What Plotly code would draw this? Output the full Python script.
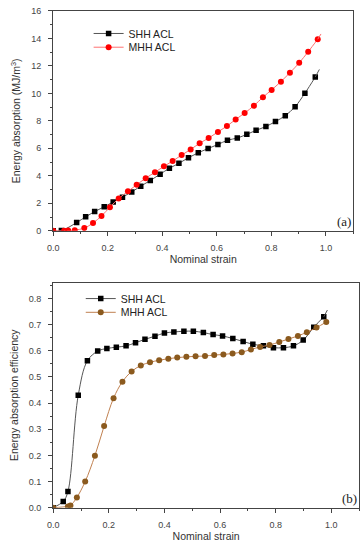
import plotly.graph_objects as go

# ---- Panel (a): energy absorption ----
a_shh_x = [0.0, 0.030, 0.086, 0.119, 0.152, 0.187, 0.220, 0.254, 0.288, 0.321, 0.356, 0.392, 0.426,
           0.461, 0.496, 0.532, 0.568, 0.604, 0.639, 0.675, 0.710, 0.744, 0.780, 0.815, 0.851,
           0.887, 0.923, 0.961]
a_shh_y = [0.0, 0.02, 0.60, 1.02, 1.40, 1.75, 2.10, 2.45, 2.83, 3.25, 3.66, 4.12, 4.55,
           4.91, 5.32, 5.68, 5.99, 6.28, 6.59, 6.75, 7.02, 7.31, 7.59, 7.95, 8.38,
           9.03, 10.01, 11.19]
a_shh_end_x = [0.961, 0.976]
a_shh_end_y = [11.19, 11.74]

a_mhh_x = [0.0, 0.040, 0.055, 0.079, 0.114, 0.146, 0.177, 0.208, 0.240, 0.274, 0.306, 0.339,
           0.373, 0.406, 0.438, 0.471, 0.504, 0.537, 0.570, 0.604, 0.637, 0.669, 0.702,
           0.736, 0.769, 0.801, 0.835, 0.868, 0.902, 0.935, 0.970]
a_mhh_y = [0.0, 0.0, 0.02, 0.05, 0.20, 0.57, 1.08, 1.72, 2.35, 2.87, 3.35, 3.83,
           4.26, 4.69, 5.08, 5.51, 5.92, 6.37, 6.75, 7.19, 7.62, 8.10, 8.57,
           9.10, 9.72, 10.25, 10.85, 11.50, 12.22, 13.03, 13.94]
a_mhh_end_x = [0.970, 0.982]
a_mhh_end_y = [13.94, 14.32]

# ---- Panel (b): energy absorption efficiency ----
b_shh_x = [0.0, 0.036, 0.053, 0.090, 0.123, 0.160, 0.193, 0.227, 0.262, 0.296, 0.330, 0.366,
           0.400, 0.434, 0.470, 0.504, 0.540, 0.575, 0.609, 0.646, 0.683, 0.718, 0.756,
           0.792, 0.828, 0.864, 0.899, 0.937, 0.973]
b_shh_y = [0.0, 0.024, 0.062, 0.430, 0.562, 0.599, 0.609, 0.614, 0.619, 0.631, 0.644, 0.656,
           0.668, 0.672, 0.675, 0.675, 0.670, 0.662, 0.657, 0.647, 0.636, 0.625, 0.619,
           0.612, 0.612, 0.619, 0.641, 0.690, 0.730]
b_shh_end_x = [0.973, 0.986]
b_shh_end_y = [0.730, 0.756]

b_mhh_x = [0.0, 0.053, 0.062, 0.085, 0.115, 0.150, 0.183, 0.217, 0.249, 0.282, 0.315, 0.348,
           0.381, 0.414, 0.446, 0.479, 0.512, 0.546, 0.579, 0.612, 0.645, 0.678, 0.711,
           0.744, 0.778, 0.813, 0.846, 0.880, 0.912, 0.947, 0.982]
b_mhh_y = [0.0, 0.005, 0.008, 0.039, 0.100, 0.199, 0.312, 0.419, 0.482, 0.521, 0.544, 0.556,
           0.564, 0.570, 0.574, 0.577, 0.579, 0.580, 0.584, 0.586, 0.590, 0.595, 0.605,
           0.615, 0.622, 0.634, 0.645, 0.657, 0.671, 0.689, 0.710]

x_ticks = [0.0, 0.2, 0.4, 0.6, 0.8, 1.0]
x_tick_labels = ["0.0", "0.2", "0.4", "0.6", "0.8", "1.0"]
a_y_ticks = [0, 2, 4, 6, 8, 10, 12, 14, 16]
b_y_ticks = [0.0, 0.1, 0.2, 0.3, 0.4, 0.5, 0.6, 0.7, 0.8]
b_y_tick_labels = ["0.0", "0.1", "0.2", "0.3", "0.4", "0.5", "0.6", "0.7", "0.8"]

series_names = ["SHH ACL", "MHH ACL"]

BLACK = "#000000"
GRAY_LINE = "#555555"
RED = "#ff0000"
RED_LINE = "#ff7070"
BROWN = "#8b5a1e"
BROWN_LINE = "#c08050"

fig = go.Figure()

# panel a
fig.add_trace(go.Scatter(x=a_shh_x, y=a_shh_y, mode="lines+markers", name=series_names[0],
                         line=dict(color=GRAY_LINE, width=1, shape="spline"),
                         marker=dict(symbol="square", size=5.5, color=BLACK),
                         xaxis="x", yaxis="y", legend="legend"))
fig.add_trace(go.Scatter(x=a_shh_end_x, y=a_shh_end_y, mode="lines", showlegend=False,
                         line=dict(color=GRAY_LINE, width=1), xaxis="x", yaxis="y"))
fig.add_trace(go.Scatter(x=a_mhh_x, y=a_mhh_y, mode="lines+markers", name=series_names[1],
                         line=dict(color=RED_LINE, width=1, shape="spline"),
                         marker=dict(symbol="circle", size=6, color=RED),
                         xaxis="x", yaxis="y", legend="legend2"))
fig.add_trace(go.Scatter(x=a_mhh_end_x, y=a_mhh_end_y, mode="lines", showlegend=False,
                         line=dict(color=RED_LINE, width=1), xaxis="x", yaxis="y"))

# panel b
fig.add_trace(go.Scatter(x=b_shh_x, y=b_shh_y, mode="lines+markers", name=series_names[0],
                         line=dict(color=GRAY_LINE, width=1, shape="spline"),
                         marker=dict(symbol="square", size=5.5, color=BLACK),
                         xaxis="x2", yaxis="y2", legend="legend3"))
fig.add_trace(go.Scatter(x=b_shh_end_x, y=b_shh_end_y, mode="lines", showlegend=False,
                         line=dict(color=GRAY_LINE, width=1), xaxis="x2", yaxis="y2"))
fig.add_trace(go.Scatter(x=b_mhh_x, y=b_mhh_y, mode="lines+markers", name=series_names[1],
                         line=dict(color=BROWN_LINE, width=1, shape="spline"),
                         marker=dict(symbol="circle", size=6, color=BROWN),
                         xaxis="x2", yaxis="y2", legend="legend4"))

axis_common = dict(showgrid=False, zeroline=False, showline=True, linecolor="#444444",
                   linewidth=1.3, mirror=True, ticks="outside", ticklen=4, tickwidth=1,
                   tickcolor="#444444",
                   tickfont=dict(family="Liberation Sans, Arial", size=9, color="#444444"))
title_font = dict(family="Liberation Sans, Arial", size=10.5, color="#333333")
legend_font = dict(family="Liberation Sans, Arial", size=10.5, color="#222222")


def leg(xpx, ypx):
    return dict(x=xpx / 364, y=1 - ypx / 550, xanchor="left", yanchor="middle",
                bgcolor="rgba(0,0,0,0)", font=legend_font, itemwidth=30,
                tracegroupgap=0, borderwidth=0)


fig.update_layout(
    width=364, height=550,
    margin=dict(l=0, r=0, t=0, b=0),
    paper_bgcolor="white", plot_bgcolor="white",
    xaxis=dict(domain=[48/364, 353/364], range=[0, 1.1], anchor="y",
               tickvals=x_ticks, ticktext=x_tick_labels, ticklabelstandoff=4,
               minor=dict(ticks="outside", ticklen=2, dtick=0.1, tickcolor="#444444"),
               title=dict(text="Nominal strain", font=title_font, standoff=3),
               **axis_common),
    yaxis=dict(domain=[1-230/550, 1-6/550], range=[0, 16], anchor="x",
               tickvals=a_y_ticks, ticklabelstandoff=5,
               minor=dict(ticks="outside", ticklen=2, dtick=1, tickcolor="#444444"),
               title=dict(text="Energy absorption (MJ/m<sup>3</sup>)", font=title_font, standoff=8),
               **axis_common),
    xaxis2=dict(domain=[48/364, 359/364], range=[0, 1.1], anchor="y2",
                tickvals=x_ticks, ticktext=x_tick_labels, ticklabelstandoff=4,
                minor=dict(ticks="outside", ticklen=2, dtick=0.1, tickcolor="#444444"),
                title=dict(text="Nominal strain", font=title_font, standoff=3),
                **axis_common),
    yaxis2=dict(domain=[1-512/550, 1-283/550], range=[0, 0.86], anchor="x2",
                tickvals=b_y_ticks, ticktext=b_y_tick_labels, ticklabelstandoff=5,
                minor=dict(ticks="outside", ticklen=2, dtick=0.05, tickcolor="#444444"),
                title=dict(text="Energy absorption efficiency", font=title_font, standoff=8),
                **axis_common),
    legend=leg(84, 29),
    legend2=leg(84, 43),
    legend3=leg(76, 299),
    legend4=leg(76, 313),
    annotations=[
        dict(text="(a)", x=353/364, y=1-220/550, xref="paper", yref="paper",
             xanchor="right", yanchor="middle", showarrow=False,
             font=dict(family="Liberation Serif, Times New Roman", size=13, color="#222222")),
        dict(text="(b)", x=359/364, y=1-503/550, xref="paper", yref="paper",
             xanchor="right", yanchor="middle", showarrow=False,
             font=dict(family="Liberation Serif, Times New Roman", size=13, color="#222222")),
    ],
)

fig.write_html("out.html", config={"displayModeBar": False},
               post_script="document.body.style.margin='0';")
